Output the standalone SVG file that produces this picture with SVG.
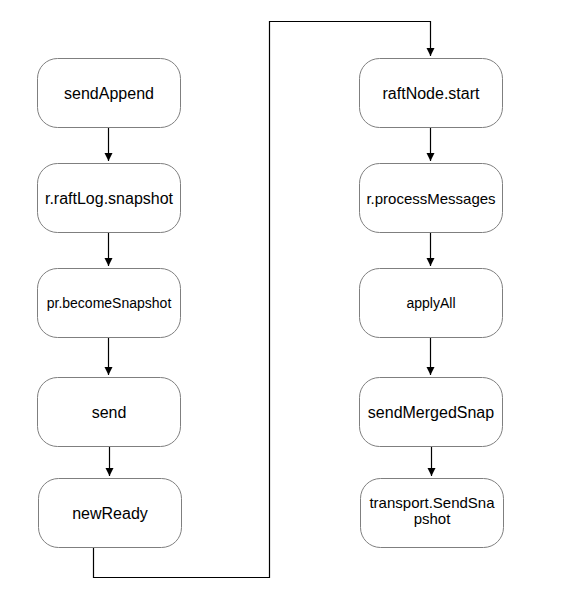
<svg xmlns="http://www.w3.org/2000/svg" width="569" height="597" viewBox="0 0 569 597">
<defs>
<marker id="ah" markerWidth="8" markerHeight="10" refX="8" refY="4" orient="auto" markerUnits="userSpaceOnUse" viewBox="0 0 8 8">
<path d="M0,0 L8,4 L0,8 Z" fill="#000"/>
</marker>
</defs>
<style>
.box{fill:#fff;stroke:#7f7f7f;stroke-width:1}
.lbl{font-family:"Liberation Sans",Arial,sans-serif;fill:#000;text-anchor:middle}
.c{fill:none;stroke:#000;stroke-width:1.2}
</style>
<rect width="569" height="597" fill="#fff"/>
<g id="connectors">
<path class="c" d="M108.5,127.5 V161" marker-end="url(#ah)"/>
<path class="c" d="M108.5,232.5 V266" marker-end="url(#ah)"/>
<path class="c" d="M108.5,337.5 V375" marker-end="url(#ah)"/>
<path class="c" d="M109.5,446.5 V476" marker-end="url(#ah)"/>
<path class="c" d="M93.5,547.5 V577.5 H269.5 V21.5 H430.5 V56" marker-end="url(#ah)"/>
<path class="c" d="M430.5,127.5 V161" marker-end="url(#ah)"/>
<path class="c" d="M430.5,232.5 V266" marker-end="url(#ah)"/>
<path class="c" d="M430.5,337.5 V375" marker-end="url(#ah)"/>
<path class="c" d="M431.5,446.5 V476" marker-end="url(#ah)"/>
</g>
<g id="sendAppend">
<rect class="box" x="37.5" y="58.5" width="143" height="69" rx="20"/>
<text class="lbl" x="109" y="99" font-size="16">sendAppend</text>
</g>
<g id="raftLogSnapshot">
<rect class="box" x="37.5" y="163.5" width="143" height="69" rx="20"/>
<text class="lbl" x="109" y="204" font-size="16">r.raftLog.snapshot</text>
</g>
<g id="becomeSnapshot">
<rect class="box" x="37.5" y="268.5" width="143" height="69" rx="20"/>
<text class="lbl" x="109" y="308" font-size="14">pr.becomeSnapshot</text>
</g>
<g id="send">
<rect class="box" x="37.5" y="377.5" width="143" height="69" rx="20"/>
<text class="lbl" x="109" y="418" font-size="16">send</text>
</g>
<g id="newReady">
<rect class="box" x="38.5" y="478.5" width="143" height="69" rx="20"/>
<text class="lbl" x="110" y="519" font-size="16">newReady</text>
</g>
<g id="raftNodeStart">
<rect class="box" x="359.5" y="58.5" width="143" height="69" rx="20"/>
<text class="lbl" x="431" y="99" font-size="16">raftNode.start</text>
</g>
<g id="processMessages">
<rect class="box" x="359.5" y="163.5" width="143" height="69" rx="20"/>
<text class="lbl" x="431" y="203.5" font-size="15">r.processMessages</text>
</g>
<g id="applyAll">
<rect class="box" x="359.5" y="268.5" width="143" height="69" rx="20"/>
<text class="lbl" x="431" y="308" font-size="14">applyAll</text>
</g>
<g id="sendMergedSnap">
<rect class="box" x="359.5" y="377.5" width="143" height="69" rx="20"/>
<text class="lbl" x="431" y="418" font-size="16">sendMergedSnap</text>
</g>
<g id="transportSendSnapshot">
<rect class="box" x="360.5" y="478.5" width="143" height="69" rx="20"/>
<text class="lbl" x="432" y="508" font-size="15">transport.SendSna</text>
<text class="lbl" x="432" y="524" font-size="15">pshot</text>
</g>
</svg>
